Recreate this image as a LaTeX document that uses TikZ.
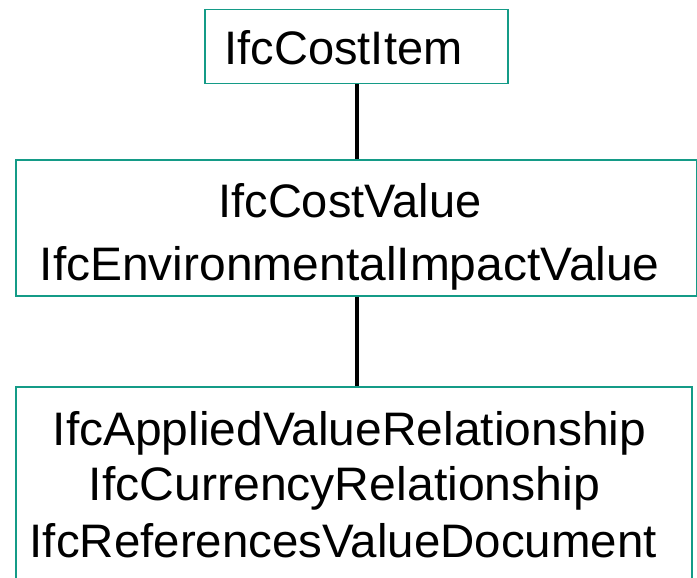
\documentclass[tikz,border=0pt]{standalone}
\usepackage{fontspec}
\setmainfont{Liberation Sans}
\definecolor{tealline}{RGB}{20,155,135}
\begin{document}
\begin{tikzpicture}[x=1pt,y=-1pt,
  box/.style={draw=tealline, line width=1.6pt, inner sep=0pt, rectangle},
  lbl/.style={inner sep=0pt, anchor=base west, font=\fontsize{47}{56}\selectfont},
  conn/.style={draw=black, line width=4pt}]
\useasboundingbox (0,0) rectangle (697,578);
\clip (0,0) rectangle (697,578);
\fill[white] (0,0) rectangle (697,578);
% boxes
\node[box, minimum width=303pt, minimum height=74pt] (top) at (356.5,46.5) {};
\node[box, minimum width=680.5pt, minimum height=136pt] (mid) at (356.25,228) {};
\node[box, minimum width=676pt, minimum height=220pt] (bot) at (354,497) {};
% texts
\node[lbl] (t1) at (224.5,65) {IfcCostItem};
\node[lbl] (t2) at (218.2,217) {IfcCostValue};
\node[lbl] (t3) at (39.5,280) {\scalebox{1.02}[1]{IfcEnvironmentalImpactValue}};
\node[lbl] (t4) at (52.5,445) {\scalebox{1.02}[1]{IfcAppliedValueRelationship}};
\node[lbl] (t5) at (88.5,500) {\scalebox{1.025}[1]{IfcCurrencyRelationship}};
\node[lbl] (t6) at (29.5,557) {\scalebox{1.01}[1]{IfcReferencesValueDocument}};
% connectors
\draw[conn] (top.south) -- (top.south |- mid.north);
\draw[conn] (top.south |- mid.south) -- (top.south |- bot.north);
\end{tikzpicture}
\end{document}
